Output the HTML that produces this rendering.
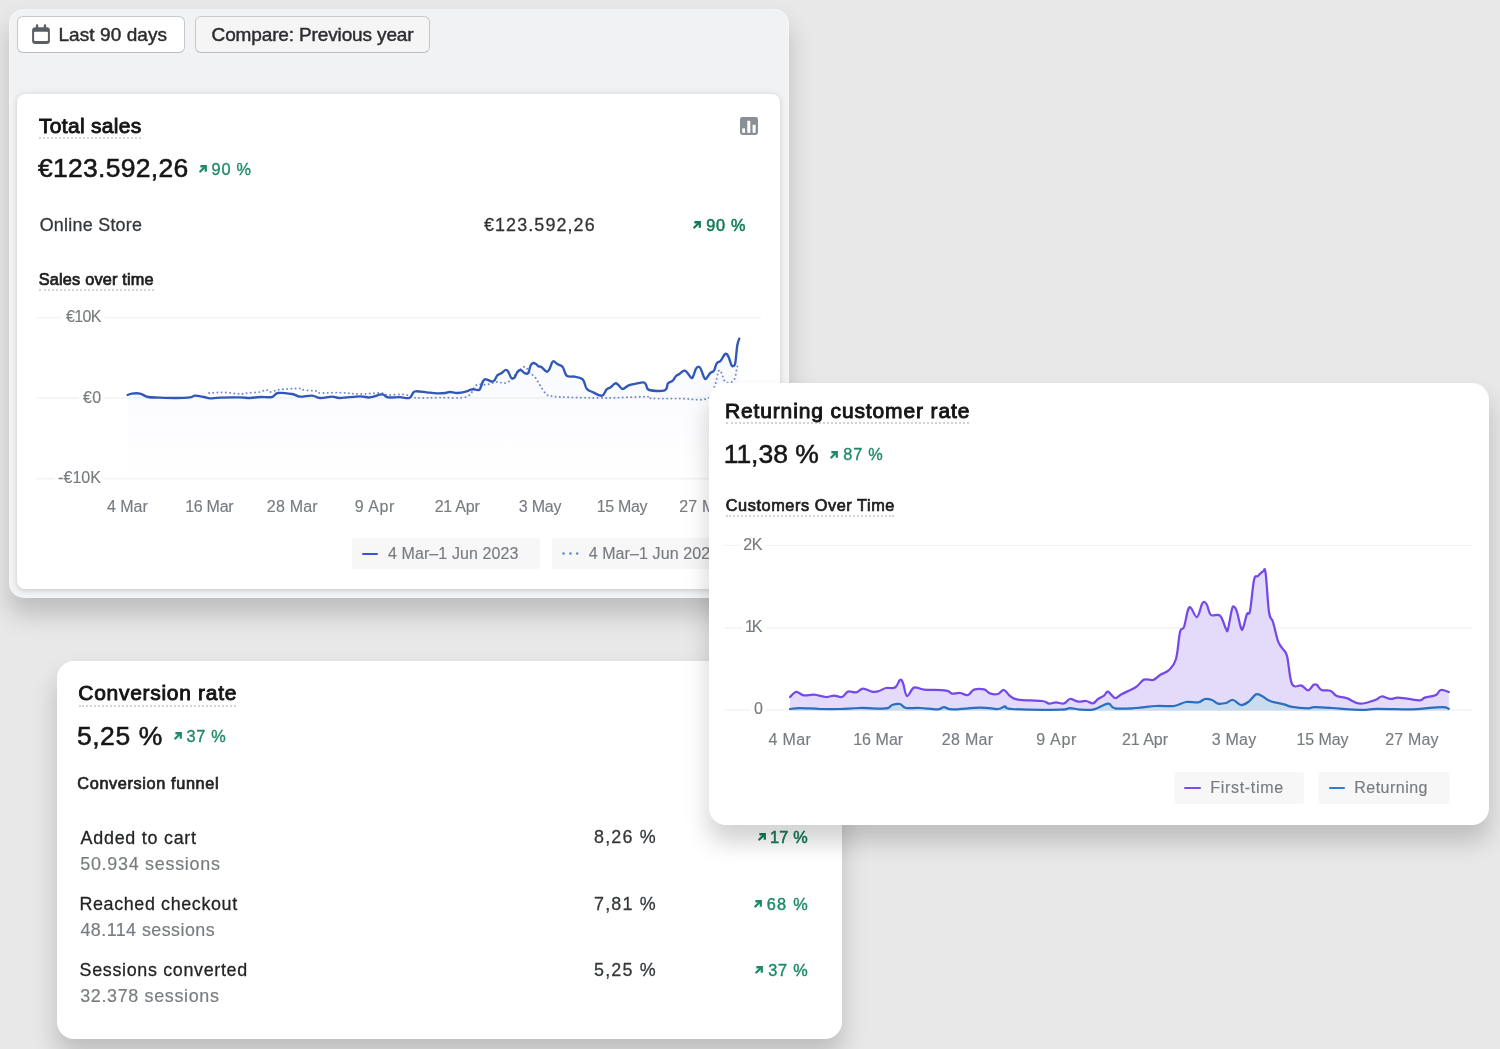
<!DOCTYPE html><html lang="en"><head><meta charset="utf-8"><title>Analytics overview</title><style>
*{box-sizing:border-box}
html,body{margin:0;padding:0}
body{width:1500px;height:1049px;overflow:hidden;position:relative;background:#e8e8e8;font-family:"Liberation Sans",sans-serif}
.abs,.t,.a,.card,.btn,.lg,svg.ch,.ul{position:absolute}
.t{white-space:nowrap;line-height:1;display:block;margin:0;padding:0;font-weight:400;font-style:normal}
.card{background:#fff}
.ul{height:0;border-top:2px dotted #d2d3d5}
.lg{background:#f7f7f8;border-radius:3px}
.ln{position:absolute;height:2px;border-radius:1px}
svg.ch{left:0;top:0;overflow:visible}
</style></head><body>
<main>
<section aria-label="Total sales">
<div class="abs" style="left:9px;top:9px;width:780px;height:589px;border-radius:15px;background:#f1f2f4;box-shadow:0 16px 25px 1px rgba(0,0,0,.18),inset 0 0 3px rgba(255,255,255,.7)"></div>
<div class="btn" style="left:16.6px;top:16px;width:168px;height:37px;border-radius:6px;background:#fff;border:1.8px solid #c6c8cb;border-bottom-color:#b9bbbf"></div>
<div class="btn" style="left:195.4px;top:16px;width:234.6px;height:37px;border-radius:6px;background:#f5f5f6;border:1.8px solid #c6c8cb;border-bottom-color:#b9bbbf"></div>
<svg class="a" style="left:31px;top:23px" width="20" height="22" viewBox="0 0 20 22"><rect x="1.1" y="4.3" width="17.8" height="16.6" rx="3.2" fill="#5b5f66"/><rect x="3.1" y="8.7" width="13.8" height="9.3" rx="0.9" fill="#fff"/><rect x="4.9" y="1.3" width="2.3" height="5" rx="1.1" fill="#5b5f66"/><rect x="12.8" y="1.3" width="2.3" height="5" rx="1.1" fill="#5b5f66"/></svg>
<div class="card" style="left:17px;top:93.6px;width:763.4px;height:495.6px;border-radius:8px;box-shadow:0 0 7px rgba(23,24,24,.08),0 1.5px 4px rgba(0,0,0,.1)"></div>
<svg class="a" style="left:739.6px;top:116.6px" width="18" height="18" viewBox="0 0 18 18"><rect x="0" y="0" width="18" height="18" rx="2.4" fill="#8a8f96"/><rect x="2.2" y="11.4" width="2.8" height="4.4" fill="#fff"/><rect x="7.3" y="3.8" width="3" height="12" fill="#fff"/><rect x="12.6" y="7.8" width="3" height="8" fill="#fff"/></svg>
<div class="ul" style="left:39px;top:137px;width:102px"></div>
<div class="ul" style="left:39px;top:289px;width:114.5px"></div>
<div class="lg" style="left:351.5px;top:538.3px;width:188.7px;height:30.4px"></div>
<div class="lg" style="left:551.6px;top:538.3px;width:188.7px;height:30.4px"></div>
<div class="ln" style="left:362.3px;top:552.5px;width:16.2px;background:#3d4fe0"></div>
<svg class="a" style="left:562px;top:551px" width="18" height="5" viewBox="0 0 18 5"><circle cx="1.6" cy="2.5" r="1.2" fill="#5f7fd6"/><circle cx="8.4" cy="2.5" r="1.2" fill="#5f7fd6"/><circle cx="15.2" cy="2.5" r="1.2" fill="#5f7fd6"/></svg>
<svg class="ch" width="1500" height="1049" viewBox="0 0 1500 1049"><defs><linearGradient id="gs" x1="0" y1="338" x2="0" y2="480" gradientUnits="userSpaceOnUse"><stop offset="0" stop-color="#4a63d8" stop-opacity=".04"/><stop offset="1" stop-color="#4a63d8" stop-opacity="0"/></linearGradient></defs><path d="M36,317.6H62M104.5,317.6H761" stroke="#f3f3f4" stroke-width="1.4" fill="none"/><path d="M36,398H79M104.5,398H761" stroke="#f3f3f4" stroke-width="1.4" fill="none"/><path d="M36,478.7H55M104.5,478.7H761" stroke="#f3f3f4" stroke-width="1.4" fill="none"/><path d="M127.6,395.0C128.4,394.7 129.8,393.9 132.0,393.6C134.2,393.3 137.1,393.0 140.0,393.6C142.9,394.2 144.4,396.3 148.0,397.0C151.6,397.7 155.0,397.4 160.0,397.6C165.0,397.8 170.6,398.0 176.0,398.0C181.4,398.0 186.6,397.8 190.0,397.4C193.4,397.0 192.5,395.7 195.0,395.6C197.5,395.5 201.3,396.5 204.0,397.0C206.7,397.5 207.1,398.3 210.0,398.4C212.9,398.5 214.6,397.8 220.0,397.6C225.4,397.4 234.6,397.3 240.0,397.4C245.4,397.5 246.4,398.1 250.0,398.0C253.6,397.9 256.0,397.2 260.0,397.0C264.0,396.8 268.8,397.7 272.0,397.0C275.2,396.3 274.4,393.5 278.0,393.0C281.6,392.5 288.0,393.4 292.0,394.0C296.0,394.6 296.4,396.3 300.0,396.6C303.6,396.9 308.4,395.3 312.0,395.6C315.6,395.9 316.4,397.8 320.0,398.0C323.6,398.2 328.4,396.6 332.0,396.6C335.6,396.6 335.0,398.0 340.0,398.0C345.0,398.0 354.6,396.5 360.0,396.4C365.4,396.3 366.0,397.8 370.0,397.4C374.0,397.0 378.8,394.4 382.0,394.4C385.2,394.4 384.8,396.9 388.0,397.4C391.2,397.9 396.2,397.1 400.0,397.2C403.8,397.3 406.9,398.8 409.3,398.0C411.7,397.2 412.1,393.9 413.3,392.7C414.5,391.5 413.6,391.4 416.0,391.3C418.4,391.2 422.9,391.9 426.7,392.3C430.5,392.7 434.0,393.2 437.3,393.3C440.6,393.4 443.0,393.2 445.3,393.0C447.6,392.8 447.8,392.0 450.0,392.0C452.2,392.0 454.3,393.1 457.3,393.0C460.3,392.9 464.1,392.0 466.7,391.3C469.3,390.6 469.8,389.5 472.0,389.3C474.2,389.1 477.1,390.4 478.7,390.0C480.3,389.6 479.9,389.0 480.7,387.3C481.5,385.6 482.3,382.1 483.3,380.7C484.3,379.3 484.4,379.1 486.0,379.3C487.6,379.5 490.4,381.5 492.0,381.6C493.6,381.7 493.7,381.1 494.7,380.0C495.7,378.9 496.1,376.5 497.3,375.3C498.5,374.1 499.9,374.3 501.3,373.3C502.7,372.3 504.1,370.4 505.3,370.0C506.5,369.6 506.9,369.9 508.0,371.3C509.1,372.7 510.1,376.9 511.3,378.0C512.5,379.1 513.6,378.4 514.7,377.3C515.8,376.2 516.2,373.3 517.3,372.0C518.4,370.7 519.5,369.9 520.7,370.0C521.9,370.1 522.7,372.1 524.0,372.7C525.3,373.3 526.8,374.6 528.0,373.3C529.2,372.0 529.7,367.2 530.7,365.3C531.7,363.4 532.3,363.2 533.3,363.0C534.3,362.8 535.0,363.4 536.0,364.0C537.0,364.6 537.7,365.9 538.7,366.4C539.7,366.9 539.9,366.0 541.3,367.0C542.7,368.0 545.3,371.3 546.7,371.7C548.1,372.1 548.3,370.9 549.3,369.3C550.3,367.7 551.2,364.1 552.0,362.7C552.8,361.3 553.0,361.1 554.0,361.3C555.0,361.5 555.7,363.0 557.3,364.0C558.9,365.0 561.0,364.9 562.7,367.0C564.4,369.1 564.5,374.0 566.7,375.7C568.9,377.4 571.8,376.1 574.7,376.7C577.6,377.3 580.5,377.1 582.7,379.3C584.9,381.5 584.8,386.3 586.7,388.7C588.6,391.1 590.5,391.1 593.3,392.4C596.1,393.7 599.6,396.3 602.0,395.7C604.4,395.1 605.1,390.8 606.7,389.3C608.3,387.8 609.2,388.4 610.7,387.3C612.2,386.2 613.9,383.7 615.3,383.3C616.7,382.9 617.4,384.3 618.7,385.3C620.0,386.3 620.9,389.0 622.7,389.0C624.5,389.0 626.3,386.3 628.7,385.3C631.1,384.3 633.4,384.2 636.0,383.7C638.6,383.2 641.5,382.2 643.3,382.4C645.1,382.6 644.9,383.3 646.0,384.7C647.1,386.1 645.9,389.0 649.3,390.0C652.7,391.0 661.3,391.5 664.7,390.3C668.1,389.1 666.6,385.0 668.0,383.3C669.4,381.6 671.3,382.0 672.7,380.7C674.1,379.4 674.8,377.2 676.0,376.0C677.2,374.8 677.9,375.0 679.3,374.0C680.7,373.0 682.7,371.1 684.0,370.7C685.3,370.3 685.5,370.8 686.7,372.0C687.9,373.2 689.6,376.3 690.7,377.3C691.8,378.3 691.7,378.8 692.7,377.3C693.7,375.8 694.9,370.6 696.0,368.7C697.1,366.8 697.9,366.7 698.7,366.7C699.5,366.7 699.7,366.8 700.7,368.7C701.7,370.6 703.0,375.5 704.0,377.3C705.0,379.1 704.9,379.4 706.0,378.7C707.1,378.0 708.6,374.7 710.0,373.3C711.4,371.9 712.8,372.5 714.0,370.7C715.2,368.9 715.5,365.1 716.7,363.3C717.9,361.5 719.3,362.3 720.7,360.7C722.1,359.1 723.6,355.6 724.7,354.4C725.8,353.2 726.0,353.5 726.7,354.0C727.4,354.5 727.9,355.4 728.7,357.3C729.5,359.2 730.5,363.1 731.3,364.7C732.1,366.3 732.6,366.4 733.3,366.0C734.0,365.6 734.6,366.4 735.3,362.7C736.0,359.0 736.6,349.6 737.3,345.3C738.0,341.0 738.9,339.9 739.3,338.7L739.3,480L127.6,480Z" fill="url(#gs)"/><path d="M209.0,393.0C211.7,392.9 218.4,392.2 224.0,392.4C229.6,392.6 235.7,393.9 240.0,394.0C244.3,394.1 244.4,393.4 248.0,393.0C251.6,392.6 256.8,392.6 260.0,392.0C263.2,391.4 264.2,389.6 266.0,389.6C267.8,389.6 267.5,392.0 270.0,392.0C272.5,392.0 274.6,390.2 280.0,389.6C285.4,389.0 295.7,388.3 300.0,388.4C304.3,388.5 301.1,389.5 304.0,390.0C306.9,390.5 313.1,390.5 316.0,391.0C318.9,391.5 315.7,392.7 320.0,393.0C324.3,393.3 332.8,392.4 340.0,392.6C347.2,392.8 352.8,393.9 360.0,394.0C367.2,394.1 375.0,392.8 380.0,393.0C385.0,393.2 383.7,394.7 388.0,395.0C392.3,395.3 399.3,393.9 404.0,394.4C408.7,394.9 411.1,397.0 414.0,397.6C416.9,398.2 415.3,398.0 420.0,398.0C424.7,398.0 431.6,397.8 440.0,397.6C448.4,397.4 460.2,398.9 466.7,396.7C473.2,394.5 472.4,387.5 476.0,385.3C479.6,383.1 483.1,385.3 486.7,384.7C490.3,384.1 492.4,382.4 496.0,382.0C499.6,381.6 503.1,384.1 506.7,382.7C510.3,381.3 512.8,376.9 516.0,374.0C519.2,371.1 522.2,366.8 524.7,366.7C527.2,366.6 528.2,371.5 530.0,373.3C531.8,375.1 532.9,374.5 534.7,376.7C536.5,378.9 538.0,382.2 540.0,385.3C542.0,388.4 544.1,392.1 546.0,394.0C547.9,395.9 548.2,395.5 550.7,396.0C553.2,396.5 554.7,396.7 560.0,397.0C565.3,397.3 572.8,397.4 580.0,397.6C587.2,397.8 592.8,398.0 600.0,398.0C607.2,398.0 611.4,397.9 620.0,397.6C628.6,397.3 642.2,396.5 648.0,396.6C653.8,396.7 646.2,398.0 652.0,398.4C657.8,398.8 670.0,398.5 680.0,398.6C690.0,398.7 701.1,401.0 707.3,398.7C713.5,396.4 712.6,391.0 714.7,386.0C716.8,381.0 717.4,372.9 718.7,370.7C720.0,368.5 721.0,372.3 722.0,374.0C723.0,375.7 722.9,378.4 724.0,380.0C725.1,381.6 726.2,382.7 728.0,382.7C729.8,382.7 732.4,382.4 734.0,380.0C735.6,377.6 736.0,372.3 736.7,369.3C737.4,366.3 737.8,364.4 738.0,363.3" fill="none" stroke="#7187cf" stroke-width="1.9" stroke-dasharray="0.1 4.1" stroke-linecap="round"/><path d="M127.6,395.0C128.4,394.7 129.8,393.9 132.0,393.6C134.2,393.3 137.1,393.0 140.0,393.6C142.9,394.2 144.4,396.3 148.0,397.0C151.6,397.7 155.0,397.4 160.0,397.6C165.0,397.8 170.6,398.0 176.0,398.0C181.4,398.0 186.6,397.8 190.0,397.4C193.4,397.0 192.5,395.7 195.0,395.6C197.5,395.5 201.3,396.5 204.0,397.0C206.7,397.5 207.1,398.3 210.0,398.4C212.9,398.5 214.6,397.8 220.0,397.6C225.4,397.4 234.6,397.3 240.0,397.4C245.4,397.5 246.4,398.1 250.0,398.0C253.6,397.9 256.0,397.2 260.0,397.0C264.0,396.8 268.8,397.7 272.0,397.0C275.2,396.3 274.4,393.5 278.0,393.0C281.6,392.5 288.0,393.4 292.0,394.0C296.0,394.6 296.4,396.3 300.0,396.6C303.6,396.9 308.4,395.3 312.0,395.6C315.6,395.9 316.4,397.8 320.0,398.0C323.6,398.2 328.4,396.6 332.0,396.6C335.6,396.6 335.0,398.0 340.0,398.0C345.0,398.0 354.6,396.5 360.0,396.4C365.4,396.3 366.0,397.8 370.0,397.4C374.0,397.0 378.8,394.4 382.0,394.4C385.2,394.4 384.8,396.9 388.0,397.4C391.2,397.9 396.2,397.1 400.0,397.2C403.8,397.3 406.9,398.8 409.3,398.0C411.7,397.2 412.1,393.9 413.3,392.7C414.5,391.5 413.6,391.4 416.0,391.3C418.4,391.2 422.9,391.9 426.7,392.3C430.5,392.7 434.0,393.2 437.3,393.3C440.6,393.4 443.0,393.2 445.3,393.0C447.6,392.8 447.8,392.0 450.0,392.0C452.2,392.0 454.3,393.1 457.3,393.0C460.3,392.9 464.1,392.0 466.7,391.3C469.3,390.6 469.8,389.5 472.0,389.3C474.2,389.1 477.1,390.4 478.7,390.0C480.3,389.6 479.9,389.0 480.7,387.3C481.5,385.6 482.3,382.1 483.3,380.7C484.3,379.3 484.4,379.1 486.0,379.3C487.6,379.5 490.4,381.5 492.0,381.6C493.6,381.7 493.7,381.1 494.7,380.0C495.7,378.9 496.1,376.5 497.3,375.3C498.5,374.1 499.9,374.3 501.3,373.3C502.7,372.3 504.1,370.4 505.3,370.0C506.5,369.6 506.9,369.9 508.0,371.3C509.1,372.7 510.1,376.9 511.3,378.0C512.5,379.1 513.6,378.4 514.7,377.3C515.8,376.2 516.2,373.3 517.3,372.0C518.4,370.7 519.5,369.9 520.7,370.0C521.9,370.1 522.7,372.1 524.0,372.7C525.3,373.3 526.8,374.6 528.0,373.3C529.2,372.0 529.7,367.2 530.7,365.3C531.7,363.4 532.3,363.2 533.3,363.0C534.3,362.8 535.0,363.4 536.0,364.0C537.0,364.6 537.7,365.9 538.7,366.4C539.7,366.9 539.9,366.0 541.3,367.0C542.7,368.0 545.3,371.3 546.7,371.7C548.1,372.1 548.3,370.9 549.3,369.3C550.3,367.7 551.2,364.1 552.0,362.7C552.8,361.3 553.0,361.1 554.0,361.3C555.0,361.5 555.7,363.0 557.3,364.0C558.9,365.0 561.0,364.9 562.7,367.0C564.4,369.1 564.5,374.0 566.7,375.7C568.9,377.4 571.8,376.1 574.7,376.7C577.6,377.3 580.5,377.1 582.7,379.3C584.9,381.5 584.8,386.3 586.7,388.7C588.6,391.1 590.5,391.1 593.3,392.4C596.1,393.7 599.6,396.3 602.0,395.7C604.4,395.1 605.1,390.8 606.7,389.3C608.3,387.8 609.2,388.4 610.7,387.3C612.2,386.2 613.9,383.7 615.3,383.3C616.7,382.9 617.4,384.3 618.7,385.3C620.0,386.3 620.9,389.0 622.7,389.0C624.5,389.0 626.3,386.3 628.7,385.3C631.1,384.3 633.4,384.2 636.0,383.7C638.6,383.2 641.5,382.2 643.3,382.4C645.1,382.6 644.9,383.3 646.0,384.7C647.1,386.1 645.9,389.0 649.3,390.0C652.7,391.0 661.3,391.5 664.7,390.3C668.1,389.1 666.6,385.0 668.0,383.3C669.4,381.6 671.3,382.0 672.7,380.7C674.1,379.4 674.8,377.2 676.0,376.0C677.2,374.8 677.9,375.0 679.3,374.0C680.7,373.0 682.7,371.1 684.0,370.7C685.3,370.3 685.5,370.8 686.7,372.0C687.9,373.2 689.6,376.3 690.7,377.3C691.8,378.3 691.7,378.8 692.7,377.3C693.7,375.8 694.9,370.6 696.0,368.7C697.1,366.8 697.9,366.7 698.7,366.7C699.5,366.7 699.7,366.8 700.7,368.7C701.7,370.6 703.0,375.5 704.0,377.3C705.0,379.1 704.9,379.4 706.0,378.7C707.1,378.0 708.6,374.7 710.0,373.3C711.4,371.9 712.8,372.5 714.0,370.7C715.2,368.9 715.5,365.1 716.7,363.3C717.9,361.5 719.3,362.3 720.7,360.7C722.1,359.1 723.6,355.6 724.7,354.4C725.8,353.2 726.0,353.5 726.7,354.0C727.4,354.5 727.9,355.4 728.7,357.3C729.5,359.2 730.5,363.1 731.3,364.7C732.1,366.3 732.6,366.4 733.3,366.0C734.0,365.6 734.6,366.4 735.3,362.7C736.0,359.0 736.6,349.6 737.3,345.3C738.0,341.0 738.9,339.9 739.3,338.7" fill="none" stroke="#3157b9" stroke-width="2.35" stroke-linejoin="round" stroke-linecap="round"/></svg>
<span class="t" style="left:58.45px;top:25px;font-size:19.0px;letter-spacing:0.085px;color:#2c2d2f;-webkit-text-stroke:0.45px #2c2d2f;">Last 90 days</span>
<span class="t" style="left:211.62px;top:25px;font-size:19.0px;letter-spacing:-0.138px;color:#2c2d2f;-webkit-text-stroke:0.45px #2c2d2f;">Compare: Previous year</span>
<h2 class="t" style="left:38.99px;top:115px;font-size:21px;letter-spacing:0.304px;color:#141414;-webkit-text-stroke:0.9px #141414;">Total sales</h2>
<strong class="t" style="left:37.97px;top:155px;font-size:26.5px;letter-spacing:0.282px;color:#161616;-webkit-text-stroke:0.55px #161616;">€123.592,26</strong>
<span class="t" style="left:211.62px;top:161px;font-size:16.3px;letter-spacing:0.737px;color:#1e8a64;-webkit-text-stroke:0.35px #1e8a64;">90 %</span>
<span class="t" style="left:39.69px;top:217px;font-size:17.9px;letter-spacing:0.260px;color:#34373a;-webkit-text-stroke:0.28px #34373a;">Online Store</span>
<span class="t" style="left:483.99px;top:217px;font-size:17.9px;letter-spacing:1.116px;color:#303234;-webkit-text-stroke:0.28px #303234;">€123.592,26</span>
<span class="t" style="left:706.15px;top:217px;font-size:16.3px;letter-spacing:0.783px;color:#127a57;-webkit-text-stroke:0.5px #127a57;">90 %</span>
<h3 class="t" style="left:38.77px;top:271px;font-size:16.3px;letter-spacing:0.192px;color:#1c1d1e;-webkit-text-stroke:0.72px #1c1d1e;">Sales over time</h3>
<span class="t" style="left:65.89px;top:309px;font-size:16.0px;letter-spacing:-0.602px;color:#787c81;-webkit-text-stroke:0.15px #787c81;">€10K</span>
<span class="t" style="left:82.89px;top:390px;font-size:16.0px;letter-spacing:0.433px;color:#787c81;-webkit-text-stroke:0.15px #787c81;">€0</span>
<span class="t" style="left:58.09px;top:470px;font-size:16.0px;letter-spacing:0.045px;color:#787c81;-webkit-text-stroke:0.15px #787c81;">-€10K</span>
<span class="t" style="left:106.94px;top:499px;font-size:16.0px;letter-spacing:-0.012px;color:#787c81;-webkit-text-stroke:0.15px #787c81;">4 Mar</span>
<span class="t" style="left:185.20px;top:499px;font-size:16.0px;letter-spacing:-0.282px;color:#787c81;-webkit-text-stroke:0.15px #787c81;">16 Mar</span>
<span class="t" style="left:266.86px;top:499px;font-size:16.0px;letter-spacing:0.187px;color:#787c81;-webkit-text-stroke:0.15px #787c81;">28 Mar</span>
<span class="t" style="left:354.85px;top:499px;font-size:16.0px;letter-spacing:0.514px;color:#787c81;-webkit-text-stroke:0.15px #787c81;">9 Apr</span>
<span class="t" style="left:434.66px;top:499px;font-size:16.0px;letter-spacing:-0.229px;color:#787c81;-webkit-text-stroke:0.15px #787c81;">21 Apr</span>
<span class="t" style="left:518.75px;top:499px;font-size:16.0px;letter-spacing:-0.189px;color:#787c81;-webkit-text-stroke:0.15px #787c81;">3 May</span>
<span class="t" style="left:596.80px;top:499px;font-size:16.0px;letter-spacing:-0.341px;color:#787c81;-webkit-text-stroke:0.15px #787c81;">15 May</span>
<span class="t" style="left:679.16px;top:499px;font-size:16.0px;letter-spacing:0.168px;color:#787c81;-webkit-text-stroke:0.15px #787c81;">27 May</span>
<span class="t" style="left:387.94px;top:546px;font-size:16.0px;letter-spacing:0.102px;color:#787c81;-webkit-text-stroke:0.15px #787c81;">4 Mar–1 Jun 2023</span>
<span class="t" style="left:588.64px;top:546px;font-size:16.0px;letter-spacing:0.103px;color:#787c81;-webkit-text-stroke:0.15px #787c81;">4 Mar–1 Jun 2022</span>
<svg class="a" style="left:198.9px;top:165.1px" width="8.3" height="7.75" viewBox="0 0 9 8.4"><path d="M1.4 7 L6.6 1.9" fill="none" stroke="#1e8a64" stroke-width="2.45" stroke-linecap="round"/><path d="M1.5 1.35 H7.35 V7.2" fill="none" stroke="#1e8a64" stroke-width="2.45" stroke-linejoin="miter"/></svg>
<svg class="a" style="left:693.4px;top:221.4px" width="8.3" height="7.75" viewBox="0 0 9 8.4"><path d="M1.4 7 L6.6 1.9" fill="none" stroke="#127a57" stroke-width="2.45" stroke-linecap="round"/><path d="M1.5 1.35 H7.35 V7.2" fill="none" stroke="#127a57" stroke-width="2.45" stroke-linejoin="miter"/></svg>
</section>
<section aria-label="Conversion rate">
<div class="card" style="left:57px;top:660.7px;width:785px;height:378.5px;border-radius:17px;box-shadow:0 16px 25px 1px rgba(0,0,0,.18)"></div>
<div class="ul" style="left:78.7px;top:704.6px;width:157.3px"></div>
<h2 class="t" style="left:78.37px;top:682px;font-size:21px;letter-spacing:0.700px;color:#141414;-webkit-text-stroke:0.9px #141414;">Conversion rate</h2>
<strong class="t" style="left:76.91px;top:723px;font-size:26.5px;letter-spacing:0.557px;color:#161616;-webkit-text-stroke:0.55px #161616;">5,25 %</strong>
<span class="t" style="left:186.42px;top:728px;font-size:16.3px;letter-spacing:0.771px;color:#1e8a64;-webkit-text-stroke:0.35px #1e8a64;">37 %</span>
<h3 class="t" style="left:77.37px;top:775px;font-size:16.3px;letter-spacing:0.621px;color:#232425;-webkit-text-stroke:0.72px #232425;">Conversion funnel</h3>
<span class="t" style="left:80.53px;top:830px;font-size:17.9px;letter-spacing:0.760px;color:#222426;-webkit-text-stroke:0.28px #222426;">Added to cart</span>
<span class="t" style="left:80.21px;top:856px;font-size:17.9px;letter-spacing:0.743px;color:#787c81;-webkit-text-stroke:0.18px #787c81;">50.934 sessions</span>
<span class="t" style="left:79.45px;top:896px;font-size:17.9px;letter-spacing:0.634px;color:#222426;-webkit-text-stroke:0.28px #222426;">Reached checkout</span>
<span class="t" style="left:80.43px;top:922px;font-size:17.9px;letter-spacing:0.449px;color:#787c81;-webkit-text-stroke:0.18px #787c81;">48.114 sessions</span>
<span class="t" style="left:79.55px;top:962px;font-size:17.9px;letter-spacing:0.675px;color:#222426;-webkit-text-stroke:0.28px #222426;">Sessions converted</span>
<span class="t" style="left:80.22px;top:988px;font-size:17.9px;letter-spacing:0.671px;color:#787c81;-webkit-text-stroke:0.18px #787c81;">32.378 sessions</span>
<span class="t" style="left:594.09px;top:829px;font-size:17.9px;letter-spacing:1.184px;color:#34373a;-webkit-text-stroke:0.28px #34373a;">8,26 %</span>
<span class="t" style="left:594.04px;top:896px;font-size:17.9px;letter-spacing:1.193px;color:#34373a;-webkit-text-stroke:0.28px #34373a;">7,81 %</span>
<span class="t" style="left:594.05px;top:962px;font-size:17.9px;letter-spacing:1.191px;color:#34373a;-webkit-text-stroke:0.28px #34373a;">5,25 %</span>
<span class="t" style="left:769.95px;top:829px;font-size:16.3px;letter-spacing:0.252px;color:#127a57;-webkit-text-stroke:0.5px #127a57;">17 %</span>
<span class="t" style="left:766.71px;top:896px;font-size:16.3px;letter-spacing:1.336px;color:#1e8a64;-webkit-text-stroke:0.4px #1e8a64;">68 %</span>
<span class="t" style="left:768.14px;top:962px;font-size:16.3px;letter-spacing:0.862px;color:#1e8a64;-webkit-text-stroke:0.4px #1e8a64;">37 %</span>
<svg class="a" style="left:173.8px;top:732.4px" width="8.3" height="7.75" viewBox="0 0 9 8.4"><path d="M1.4 7 L6.6 1.9" fill="none" stroke="#1e8a64" stroke-width="2.45" stroke-linecap="round"/><path d="M1.5 1.35 H7.35 V7.2" fill="none" stroke="#1e8a64" stroke-width="2.45" stroke-linejoin="miter"/></svg>
<svg class="a" style="left:757.6px;top:833.4px" width="8.3" height="7.75" viewBox="0 0 9 8.4"><path d="M1.4 7 L6.6 1.9" fill="none" stroke="#127a57" stroke-width="2.45" stroke-linecap="round"/><path d="M1.5 1.35 H7.35 V7.2" fill="none" stroke="#127a57" stroke-width="2.45" stroke-linejoin="miter"/></svg>
<svg class="a" style="left:753.8px;top:900.0px" width="8.3" height="7.75" viewBox="0 0 9 8.4"><path d="M1.4 7 L6.6 1.9" fill="none" stroke="#1e8a64" stroke-width="2.45" stroke-linecap="round"/><path d="M1.5 1.35 H7.35 V7.2" fill="none" stroke="#1e8a64" stroke-width="2.45" stroke-linejoin="miter"/></svg>
<svg class="a" style="left:755.2px;top:966.4px" width="8.3" height="7.75" viewBox="0 0 9 8.4"><path d="M1.4 7 L6.6 1.9" fill="none" stroke="#1e8a64" stroke-width="2.45" stroke-linecap="round"/><path d="M1.5 1.35 H7.35 V7.2" fill="none" stroke="#1e8a64" stroke-width="2.45" stroke-linejoin="miter"/></svg>
</section>
<section aria-label="Returning customer rate">
<div class="card" style="left:708.7px;top:382.5px;width:780.6px;height:442.1px;border-radius:17px;box-shadow:0 16px 25px 1px rgba(0,0,0,.18)"></div>
<div class="ul" style="left:726px;top:422px;width:243px"></div>
<div class="ul" style="left:726px;top:515.4px;width:168px"></div>
<div class="lg" style="left:1174px;top:772.3px;width:130px;height:31.7px"></div>
<div class="lg" style="left:1318.4px;top:772.3px;width:131.7px;height:31.7px"></div>
<div class="ln" style="left:1184.4px;top:786.5px;width:16.4px;background:#7a4ff0"></div>
<div class="ln" style="left:1328.5px;top:786.5px;width:16.8px;background:#2f7ed2"></div>
<svg class="ch" width="1500" height="1049" viewBox="0 0 1500 1049"><path d="M724,545.4H740M766,545.4H1472.5" stroke="#f3f3f4" stroke-width="1.4" fill="none"/><path d="M724,628H742M766,628H1472.5" stroke="#f3f3f4" stroke-width="1.4" fill="none"/><path d="M724,710H750M766,710H1472.5" stroke="#f3f3f4" stroke-width="1.4" fill="none"/><path d="M790.0,697.0C791.1,696.1 793.5,692.3 796.0,692.0C798.5,691.7 800.8,694.9 804.0,695.4C807.2,695.9 810.0,694.3 814.0,694.6C818.0,694.9 822.4,696.8 826.0,697.0C829.6,697.2 831.1,695.6 834.0,695.6C836.9,695.6 839.5,697.7 842.0,697.0C844.5,696.3 845.5,692.4 848.0,691.6C850.5,690.8 853.3,692.9 856.0,692.4C858.7,691.9 860.1,688.7 863.0,688.6C865.9,688.5 869.3,691.1 872.0,691.6C874.7,692.1 875.5,692.0 878.0,691.4C880.5,690.8 882.9,688.7 886.0,688.0C889.1,687.3 892.5,689.0 895.0,687.6C897.5,686.2 898.6,680.8 900.0,680.0C901.4,679.2 901.7,680.1 903.0,683.0C904.3,685.9 905.0,695.2 907.0,696.0C909.0,696.8 910.9,688.8 914.0,687.6C917.1,686.4 918.2,689.1 924.0,689.6C929.8,690.1 941.0,689.9 946.0,690.6C951.0,691.3 949.5,693.2 952.0,693.6C954.5,694.0 957.1,692.7 960.0,693.0C962.9,693.3 965.5,695.6 968.0,695.0C970.5,694.4 971.1,690.6 974.0,689.6C976.9,688.6 981.1,688.7 984.0,689.4C986.9,690.1 987.5,692.6 990.0,693.4C992.5,694.2 995.5,694.6 998.0,694.0C1000.5,693.4 1001.8,689.6 1004.0,690.0C1006.2,690.4 1007.5,694.3 1010.0,696.0C1012.5,697.7 1012.2,698.7 1018.0,699.6C1023.8,700.5 1036.4,700.3 1042.0,701.0C1047.6,701.7 1046.5,703.3 1049.0,703.6C1051.5,703.9 1053.3,702.4 1056.0,702.4C1058.7,702.4 1061.5,704.0 1064.0,703.4C1066.5,702.8 1067.5,699.3 1070.0,699.0C1072.5,698.7 1075.1,701.2 1078.0,701.6C1080.9,702.0 1083.3,700.7 1086.0,701.0C1088.7,701.3 1090.8,703.8 1093.0,703.4C1095.2,703.0 1096.0,700.4 1098.0,699.0C1100.0,697.6 1102.2,696.9 1104.0,695.6C1105.8,694.3 1106.0,691.2 1108.0,691.6C1110.0,692.0 1112.5,697.6 1115.0,698.0C1117.5,698.4 1118.2,696.0 1122.0,694.0C1125.8,692.0 1132.0,689.6 1136.0,687.0C1140.0,684.4 1140.9,680.9 1144.0,679.6C1147.1,678.3 1150.1,680.8 1153.0,680.0C1155.9,679.2 1157.1,676.8 1160.0,675.0C1162.9,673.2 1166.1,672.9 1169.0,670.0C1171.9,667.1 1174.0,665.8 1176.0,659.0C1178.0,652.2 1178.6,637.8 1180.0,632.0C1181.4,626.2 1182.6,631.0 1184.0,627.0C1185.4,623.0 1186.7,613.4 1188.0,610.0C1189.3,606.6 1189.4,606.7 1191.0,608.0C1192.6,609.3 1195.0,617.7 1197.0,617.0C1199.0,616.3 1200.7,606.7 1202.0,604.0C1203.3,601.3 1203.5,601.8 1204.4,602.0C1205.3,602.2 1205.8,602.7 1207.0,605.0C1208.2,607.3 1208.7,613.1 1211.0,615.0C1213.3,616.9 1217.3,613.1 1220.0,615.6C1222.7,618.1 1224.6,626.6 1226.0,629.0C1227.4,631.4 1226.9,632.6 1228.0,629.0C1229.1,625.4 1230.8,613.0 1232.0,609.0C1233.2,605.0 1233.5,606.5 1234.4,607.0C1235.3,607.5 1235.8,608.2 1237.0,612.0C1238.2,615.8 1239.9,625.1 1241.0,628.0C1242.1,630.9 1241.9,630.5 1243.0,628.0C1244.1,625.5 1245.7,617.1 1247.0,614.0C1248.3,610.9 1248.7,617.1 1250.0,611.0C1251.3,604.9 1252.6,586.3 1254.0,580.0C1255.4,573.7 1256.4,577.5 1258.0,576.0C1259.6,574.5 1261.6,571.9 1263.0,571.4C1264.4,570.9 1264.5,565.7 1265.6,573.0C1266.7,580.3 1267.7,603.2 1269.0,612.0C1270.3,620.8 1271.4,616.8 1273.0,622.0C1274.6,627.2 1276.4,636.3 1278.0,641.0C1279.6,645.7 1280.4,645.3 1282.0,648.0C1283.6,650.7 1285.2,649.5 1287.0,656.0C1288.8,662.5 1289.4,678.7 1292.0,684.0C1294.6,689.3 1298.7,684.4 1301.6,685.6C1304.5,686.8 1305.8,690.5 1308.0,690.4C1310.2,690.3 1312.0,685.8 1313.6,684.8C1315.2,683.8 1315.4,683.9 1316.8,684.8C1318.2,685.7 1319.2,688.9 1321.6,690.0C1324.0,691.1 1327.7,689.6 1330.4,690.7C1333.1,691.8 1333.8,694.6 1336.8,696.0C1339.8,697.4 1343.0,697.0 1347.2,698.4C1351.4,699.8 1355.0,703.4 1360.0,703.7C1365.0,704.0 1371.3,701.3 1375.2,700.0C1379.1,698.7 1378.9,696.7 1381.6,696.5C1384.3,696.3 1387.5,698.7 1390.4,698.9C1393.3,699.1 1394.3,697.6 1397.6,697.6C1400.9,697.6 1404.8,698.4 1408.8,698.9C1412.8,699.4 1417.1,700.5 1420.0,700.3C1422.9,700.1 1421.9,698.6 1424.8,697.6C1427.7,696.6 1433.1,696.3 1436.0,694.9C1438.9,693.5 1438.5,690.5 1440.8,690.0C1443.1,689.5 1447.4,691.6 1448.8,692.0L1448.8,710.4L790,710.4Z" fill="#e4dbfb"/><path d="M790.0,709.0C791.8,708.8 794.6,708.0 800.0,708.0C805.4,708.0 812.8,708.8 820.0,709.0C827.2,709.2 832.8,709.2 840.0,709.0C847.2,708.8 851.7,708.1 860.0,708.0C868.3,707.9 880.2,708.9 886.0,708.4C891.8,707.9 889.5,705.8 892.0,705.0C894.5,704.2 897.5,703.5 900.0,704.0C902.5,704.5 902.4,707.3 906.0,708.0C909.6,708.7 914.2,707.7 920.0,708.0C925.8,708.3 933.7,709.6 938.0,709.4C942.3,709.2 941.5,707.0 944.0,707.0C946.5,707.0 945.5,709.3 952.0,709.4C958.5,709.5 971.7,707.7 980.0,707.6C988.3,707.5 993.5,709.2 998.0,709.0C1002.5,708.8 1002.5,706.4 1005.0,706.4C1007.5,706.4 1002.1,708.4 1012.0,709.0C1021.9,709.6 1049.6,709.8 1060.0,709.6C1070.4,709.4 1066.4,708.0 1070.0,708.0C1073.6,708.0 1075.7,709.3 1080.0,709.6C1084.3,709.9 1089.0,710.5 1094.0,709.4C1099.0,708.3 1104.2,703.8 1108.0,703.6C1111.8,703.4 1110.0,707.6 1115.0,708.4C1120.0,709.2 1128.6,708.4 1136.0,708.0C1143.4,707.6 1149.2,706.4 1156.0,706.0C1162.8,705.6 1168.6,706.7 1174.0,706.0C1179.4,705.3 1181.7,702.6 1186.0,702.0C1190.3,701.4 1194.6,702.9 1198.0,702.4C1201.4,701.9 1202.5,699.4 1205.0,699.0C1207.5,698.6 1209.7,699.2 1212.0,700.0C1214.3,700.8 1215.5,703.1 1218.0,703.6C1220.5,704.1 1223.3,703.6 1226.0,703.0C1228.7,702.4 1230.3,699.6 1233.0,700.0C1235.7,700.4 1238.1,704.7 1241.0,705.0C1243.9,705.3 1246.3,703.3 1249.0,701.4C1251.7,699.5 1253.7,695.4 1256.0,694.4C1258.3,693.4 1259.5,694.8 1262.0,696.0C1264.5,697.2 1266.0,699.5 1270.0,701.0C1274.0,702.5 1280.0,703.3 1284.0,704.4C1288.0,705.5 1287.7,706.2 1292.0,706.9C1296.3,707.6 1304.0,708.2 1308.0,708.3C1312.0,708.4 1310.1,707.3 1314.4,707.2C1318.7,707.1 1325.7,707.6 1332.0,708.0C1338.3,708.4 1343.6,709.0 1349.6,709.3C1355.6,709.6 1360.7,710.0 1365.6,709.9C1370.5,709.8 1369.0,708.9 1376.8,708.8C1384.6,708.7 1401.0,709.3 1408.8,709.3C1416.6,709.3 1414.0,709.2 1420.0,708.8C1426.0,708.4 1437.2,707.2 1442.4,707.2C1447.6,707.2 1447.6,708.5 1448.8,708.8L1448.8,710.4L790,710.4Z" fill="#c9dcee"/><path d="M790.0,697.0C791.1,696.1 793.5,692.3 796.0,692.0C798.5,691.7 800.8,694.9 804.0,695.4C807.2,695.9 810.0,694.3 814.0,694.6C818.0,694.9 822.4,696.8 826.0,697.0C829.6,697.2 831.1,695.6 834.0,695.6C836.9,695.6 839.5,697.7 842.0,697.0C844.5,696.3 845.5,692.4 848.0,691.6C850.5,690.8 853.3,692.9 856.0,692.4C858.7,691.9 860.1,688.7 863.0,688.6C865.9,688.5 869.3,691.1 872.0,691.6C874.7,692.1 875.5,692.0 878.0,691.4C880.5,690.8 882.9,688.7 886.0,688.0C889.1,687.3 892.5,689.0 895.0,687.6C897.5,686.2 898.6,680.8 900.0,680.0C901.4,679.2 901.7,680.1 903.0,683.0C904.3,685.9 905.0,695.2 907.0,696.0C909.0,696.8 910.9,688.8 914.0,687.6C917.1,686.4 918.2,689.1 924.0,689.6C929.8,690.1 941.0,689.9 946.0,690.6C951.0,691.3 949.5,693.2 952.0,693.6C954.5,694.0 957.1,692.7 960.0,693.0C962.9,693.3 965.5,695.6 968.0,695.0C970.5,694.4 971.1,690.6 974.0,689.6C976.9,688.6 981.1,688.7 984.0,689.4C986.9,690.1 987.5,692.6 990.0,693.4C992.5,694.2 995.5,694.6 998.0,694.0C1000.5,693.4 1001.8,689.6 1004.0,690.0C1006.2,690.4 1007.5,694.3 1010.0,696.0C1012.5,697.7 1012.2,698.7 1018.0,699.6C1023.8,700.5 1036.4,700.3 1042.0,701.0C1047.6,701.7 1046.5,703.3 1049.0,703.6C1051.5,703.9 1053.3,702.4 1056.0,702.4C1058.7,702.4 1061.5,704.0 1064.0,703.4C1066.5,702.8 1067.5,699.3 1070.0,699.0C1072.5,698.7 1075.1,701.2 1078.0,701.6C1080.9,702.0 1083.3,700.7 1086.0,701.0C1088.7,701.3 1090.8,703.8 1093.0,703.4C1095.2,703.0 1096.0,700.4 1098.0,699.0C1100.0,697.6 1102.2,696.9 1104.0,695.6C1105.8,694.3 1106.0,691.2 1108.0,691.6C1110.0,692.0 1112.5,697.6 1115.0,698.0C1117.5,698.4 1118.2,696.0 1122.0,694.0C1125.8,692.0 1132.0,689.6 1136.0,687.0C1140.0,684.4 1140.9,680.9 1144.0,679.6C1147.1,678.3 1150.1,680.8 1153.0,680.0C1155.9,679.2 1157.1,676.8 1160.0,675.0C1162.9,673.2 1166.1,672.9 1169.0,670.0C1171.9,667.1 1174.0,665.8 1176.0,659.0C1178.0,652.2 1178.6,637.8 1180.0,632.0C1181.4,626.2 1182.6,631.0 1184.0,627.0C1185.4,623.0 1186.7,613.4 1188.0,610.0C1189.3,606.6 1189.4,606.7 1191.0,608.0C1192.6,609.3 1195.0,617.7 1197.0,617.0C1199.0,616.3 1200.7,606.7 1202.0,604.0C1203.3,601.3 1203.5,601.8 1204.4,602.0C1205.3,602.2 1205.8,602.7 1207.0,605.0C1208.2,607.3 1208.7,613.1 1211.0,615.0C1213.3,616.9 1217.3,613.1 1220.0,615.6C1222.7,618.1 1224.6,626.6 1226.0,629.0C1227.4,631.4 1226.9,632.6 1228.0,629.0C1229.1,625.4 1230.8,613.0 1232.0,609.0C1233.2,605.0 1233.5,606.5 1234.4,607.0C1235.3,607.5 1235.8,608.2 1237.0,612.0C1238.2,615.8 1239.9,625.1 1241.0,628.0C1242.1,630.9 1241.9,630.5 1243.0,628.0C1244.1,625.5 1245.7,617.1 1247.0,614.0C1248.3,610.9 1248.7,617.1 1250.0,611.0C1251.3,604.9 1252.6,586.3 1254.0,580.0C1255.4,573.7 1256.4,577.5 1258.0,576.0C1259.6,574.5 1261.6,571.9 1263.0,571.4C1264.4,570.9 1264.5,565.7 1265.6,573.0C1266.7,580.3 1267.7,603.2 1269.0,612.0C1270.3,620.8 1271.4,616.8 1273.0,622.0C1274.6,627.2 1276.4,636.3 1278.0,641.0C1279.6,645.7 1280.4,645.3 1282.0,648.0C1283.6,650.7 1285.2,649.5 1287.0,656.0C1288.8,662.5 1289.4,678.7 1292.0,684.0C1294.6,689.3 1298.7,684.4 1301.6,685.6C1304.5,686.8 1305.8,690.5 1308.0,690.4C1310.2,690.3 1312.0,685.8 1313.6,684.8C1315.2,683.8 1315.4,683.9 1316.8,684.8C1318.2,685.7 1319.2,688.9 1321.6,690.0C1324.0,691.1 1327.7,689.6 1330.4,690.7C1333.1,691.8 1333.8,694.6 1336.8,696.0C1339.8,697.4 1343.0,697.0 1347.2,698.4C1351.4,699.8 1355.0,703.4 1360.0,703.7C1365.0,704.0 1371.3,701.3 1375.2,700.0C1379.1,698.7 1378.9,696.7 1381.6,696.5C1384.3,696.3 1387.5,698.7 1390.4,698.9C1393.3,699.1 1394.3,697.6 1397.6,697.6C1400.9,697.6 1404.8,698.4 1408.8,698.9C1412.8,699.4 1417.1,700.5 1420.0,700.3C1422.9,700.1 1421.9,698.6 1424.8,697.6C1427.7,696.6 1433.1,696.3 1436.0,694.9C1438.9,693.5 1438.5,690.5 1440.8,690.0C1443.1,689.5 1447.4,691.6 1448.8,692.0" fill="none" stroke="#7548ea" stroke-width="2.25" stroke-linejoin="round" stroke-linecap="round"/><path d="M790.0,709.0C791.8,708.8 794.6,708.0 800.0,708.0C805.4,708.0 812.8,708.8 820.0,709.0C827.2,709.2 832.8,709.2 840.0,709.0C847.2,708.8 851.7,708.1 860.0,708.0C868.3,707.9 880.2,708.9 886.0,708.4C891.8,707.9 889.5,705.8 892.0,705.0C894.5,704.2 897.5,703.5 900.0,704.0C902.5,704.5 902.4,707.3 906.0,708.0C909.6,708.7 914.2,707.7 920.0,708.0C925.8,708.3 933.7,709.6 938.0,709.4C942.3,709.2 941.5,707.0 944.0,707.0C946.5,707.0 945.5,709.3 952.0,709.4C958.5,709.5 971.7,707.7 980.0,707.6C988.3,707.5 993.5,709.2 998.0,709.0C1002.5,708.8 1002.5,706.4 1005.0,706.4C1007.5,706.4 1002.1,708.4 1012.0,709.0C1021.9,709.6 1049.6,709.8 1060.0,709.6C1070.4,709.4 1066.4,708.0 1070.0,708.0C1073.6,708.0 1075.7,709.3 1080.0,709.6C1084.3,709.9 1089.0,710.5 1094.0,709.4C1099.0,708.3 1104.2,703.8 1108.0,703.6C1111.8,703.4 1110.0,707.6 1115.0,708.4C1120.0,709.2 1128.6,708.4 1136.0,708.0C1143.4,707.6 1149.2,706.4 1156.0,706.0C1162.8,705.6 1168.6,706.7 1174.0,706.0C1179.4,705.3 1181.7,702.6 1186.0,702.0C1190.3,701.4 1194.6,702.9 1198.0,702.4C1201.4,701.9 1202.5,699.4 1205.0,699.0C1207.5,698.6 1209.7,699.2 1212.0,700.0C1214.3,700.8 1215.5,703.1 1218.0,703.6C1220.5,704.1 1223.3,703.6 1226.0,703.0C1228.7,702.4 1230.3,699.6 1233.0,700.0C1235.7,700.4 1238.1,704.7 1241.0,705.0C1243.9,705.3 1246.3,703.3 1249.0,701.4C1251.7,699.5 1253.7,695.4 1256.0,694.4C1258.3,693.4 1259.5,694.8 1262.0,696.0C1264.5,697.2 1266.0,699.5 1270.0,701.0C1274.0,702.5 1280.0,703.3 1284.0,704.4C1288.0,705.5 1287.7,706.2 1292.0,706.9C1296.3,707.6 1304.0,708.2 1308.0,708.3C1312.0,708.4 1310.1,707.3 1314.4,707.2C1318.7,707.1 1325.7,707.6 1332.0,708.0C1338.3,708.4 1343.6,709.0 1349.6,709.3C1355.6,709.6 1360.7,710.0 1365.6,709.9C1370.5,709.8 1369.0,708.9 1376.8,708.8C1384.6,708.7 1401.0,709.3 1408.8,709.3C1416.6,709.3 1414.0,709.2 1420.0,708.8C1426.0,708.4 1437.2,707.2 1442.4,707.2C1447.6,707.2 1447.6,708.5 1448.8,708.8" fill="none" stroke="#2a6fc0" stroke-width="2.25" stroke-linejoin="round" stroke-linecap="round"/></svg>
<h2 class="t" style="left:724.90px;top:400px;font-size:21px;letter-spacing:0.876px;color:#141414;-webkit-text-stroke:0.9px #141414;">Returning customer rate</h2>
<strong class="t" style="left:723.63px;top:441px;font-size:26.5px;letter-spacing:-0.013px;color:#161616;-webkit-text-stroke:0.55px #161616;">11,38 %</strong>
<span class="t" style="left:843.35px;top:446px;font-size:16.3px;letter-spacing:0.727px;color:#1e8a64;-webkit-text-stroke:0.35px #1e8a64;">87 %</span>
<h3 class="t" style="left:725.77px;top:497px;font-size:16.3px;letter-spacing:0.572px;color:#1c1d1e;-webkit-text-stroke:0.72px #1c1d1e;">Customers Over Time</h3>
<span class="t" style="left:743.26px;top:537px;font-size:16.0px;letter-spacing:-0.284px;color:#787c81;-webkit-text-stroke:0.15px #787c81;">2K</span>
<span class="t" style="left:744.90px;top:619px;font-size:16.0px;letter-spacing:-1.927px;color:#787c81;-webkit-text-stroke:0.15px #787c81;">1K</span>
<span class="t" style="left:753.92px;top:701px;font-size:16.0px;letter-spacing:-0.290px;color:#787c81;-webkit-text-stroke:0.15px #787c81;">0</span>
<span class="t" style="left:768.44px;top:732px;font-size:16.0px;letter-spacing:0.363px;color:#787c81;-webkit-text-stroke:0.15px #787c81;">4 Mar</span>
<span class="t" style="left:853.20px;top:732px;font-size:16.0px;letter-spacing:0.038px;color:#787c81;-webkit-text-stroke:0.15px #787c81;">16 Mar</span>
<span class="t" style="left:941.86px;top:732px;font-size:16.0px;letter-spacing:0.287px;color:#787c81;-webkit-text-stroke:0.15px #787c81;">28 Mar</span>
<span class="t" style="left:1036.35px;top:732px;font-size:16.0px;letter-spacing:0.639px;color:#787c81;-webkit-text-stroke:0.15px #787c81;">9 Apr</span>
<span class="t" style="left:1121.96px;top:732px;font-size:16.0px;letter-spacing:-0.029px;color:#787c81;-webkit-text-stroke:0.15px #787c81;">21 Apr</span>
<span class="t" style="left:1211.85px;top:732px;font-size:16.0px;letter-spacing:0.186px;color:#787c81;-webkit-text-stroke:0.15px #787c81;">3 May</span>
<span class="t" style="left:1296.50px;top:732px;font-size:16.0px;letter-spacing:-0.081px;color:#787c81;-webkit-text-stroke:0.15px #787c81;">15 May</span>
<span class="t" style="left:1385.16px;top:732px;font-size:16.0px;letter-spacing:0.168px;color:#787c81;-webkit-text-stroke:0.15px #787c81;">27 May</span>
<span class="t" style="left:1210.36px;top:780px;font-size:16.0px;letter-spacing:0.678px;color:#787c81;-webkit-text-stroke:0.15px #787c81;">First-time</span>
<span class="t" style="left:1354.26px;top:780px;font-size:16.0px;letter-spacing:0.478px;color:#787c81;-webkit-text-stroke:0.15px #787c81;">Returning</span>
<svg class="a" style="left:829.8px;top:450.8px" width="8.3" height="7.75" viewBox="0 0 9 8.4"><path d="M1.4 7 L6.6 1.9" fill="none" stroke="#1e8a64" stroke-width="2.45" stroke-linecap="round"/><path d="M1.5 1.35 H7.35 V7.2" fill="none" stroke="#1e8a64" stroke-width="2.45" stroke-linejoin="miter"/></svg>
</section>
</main>
</body></html>
